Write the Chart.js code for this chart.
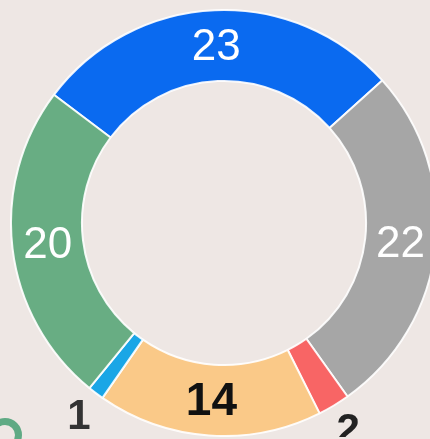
<!DOCTYPE html>
<html>
<head>
<meta charset="utf-8">
<script src="https://cdn.jsdelivr.net/npm/chart.js@4"></script>
<style>
  html, body { margin: 0; padding: 0; width: 430px; height: 439px; overflow: hidden; background: #EEE7E4; }
  #wrap { position: absolute; left: 10px; top: 9px; width: 428px; height: 428px; }
  #badge { position: absolute; left: -12px; top: 418px; width: 20px; height: 20px; border: 7px solid #5FAA84; border-radius: 50%; background: #EEE7E4; }
</style>
</head>
<body>
<div id="wrap"><canvas id="c" width="428" height="428"></canvas></div>
<div id="badge"></div>
<script>
const categories = ['A', 'B', 'C', 'D', 'E', 'F'];
const values = [23, 22, 2, 14, 1, 20];
const colors = ['#0A6AF0', '#A6A6A6', '#F86565', '#FAC988', '#1AA6E6', '#68AD83'];
const labelColors = ['#FFFFFF', '#FFFFFF', '#222222', '#111111', '#333333', '#FFFFFF'];
const labelOutside = [false, false, true, false, true, false];

const labelPlugin = {
  id: 'sliceLabels',
  afterDatasetsDraw(chart) {
    const ctx = chart.ctx;
    const meta = chart.getDatasetMeta(0);
    meta.data.forEach((arc, i) => {
      const p = arc.getProps(['x', 'y', 'startAngle', 'endAngle', 'innerRadius', 'outerRadius'], true);
      const mid = (p.startAngle + p.endAngle) / 2;
      let r, font;
      if (labelOutside[i]) {
        r = p.outerRadius + 28;
        font = 'bold 42px "Liberation Sans", Arial, sans-serif';
      } else {
        r = (p.innerRadius + p.outerRadius) / 2;
        font = (labelColors[i] === '#FFFFFF' ? 'normal 44px' : 'bold 46px') + ' "Liberation Sans", Arial, sans-serif';
      }
      const x = p.x + Math.cos(mid) * r;
      const y = p.y + Math.sin(mid) * r;
      ctx.save();
      ctx.font = font;
      ctx.fillStyle = labelColors[i];
      ctx.textAlign = 'center';
      ctx.textBaseline = 'middle';
      ctx.fillText(String(values[i]), x, y + 2);
      ctx.restore();
    });
  }
};

new Chart(document.getElementById('c'), {
  type: 'doughnut',
  data: {
    labels: categories,
    datasets: [{
      data: values,
      backgroundColor: colors,
      borderColor: 'rgba(255,255,255,0.9)',
      borderWidth: 2
    }]
  },
  options: {
    responsive: false,
    animation: false,
    rotation: -53,
    cutout: '66.7%',
    layout: { padding: 0 },
    plugins: { legend: { display: false }, tooltip: { enabled: false } }
  },
  plugins: [labelPlugin]
});
</script>
</body>
</html>
